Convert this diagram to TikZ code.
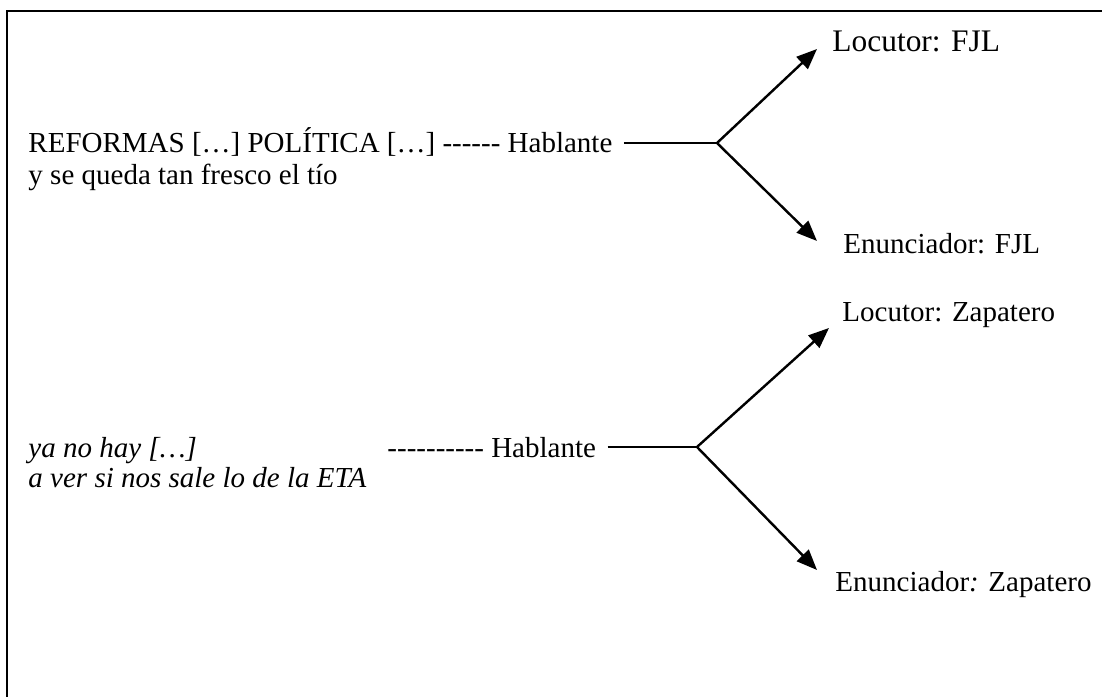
\documentclass[tikz,border=0pt]{standalone}
\usepackage{fontspec}
\setmainfont{Liberation Serif}
\usetikzlibrary{arrows.meta}
\newcommand{\hy}{\mbox{-}}
\begin{document}
\begin{tikzpicture}[x=0.4138pt,y=-0.4138pt,
  txt/.style={inner sep=0pt,anchor=base west,font=\fontsize{12}{14.4}\selectfont},
  ital/.style={txt,font=\fontsize{12}{14.4}\selectfont\itshape},
  bigtxt/.style={txt,font=\fontsize{13}{15.6}\selectfont},
  stem/.style={line width=1pt},
  branch/.style={line width=1pt,-{Triangle[length=8.5pt,width=6.8pt]}},
  frame/.style={line width=1pt}]
\useasboundingbox (0,0) rectangle (1102,697);

% open frame: top and left edges only
\draw[frame] (7,697) -- (7,11) -- (1102,11);

% first utterance
\node[txt] (src1) at (28,153) {REFORMAS […] POLÍTICA […] \hy\hy\hy\hy\hy\hy{} Hablante};
\node[txt] (src1b) at (28,185) {y se queda tan fresco el tío};
\coordinate (j1) at (717,143);
\coordinate (s1) at ([xshift=4.6pt]src1.east);
\coordinate (t1u) at (817,49);
\coordinate (t1d) at (817,241);
\node[bigtxt] (loc1) at (832,52) {Locutor: FJL};
\node[txt] (enu1) at (843,254) {Enunciador: FJL};
\draw[stem] (s1 |- j1) -- (j1);
\draw[branch] (j1) -- (t1u);
\draw[branch] (j1) -- (t1d);

% second utterance
\node[ital] (src2a) at (28,458) {ya no hay […]};
\node[ital] (src2b) at (28,488) {a ver si nos sale lo de la ETA};
\node[txt] (hab2) at (387,458) {\hy\hy\hy\hy\hy\hy\hy\hy\hy\hy{} Hablante};
\coordinate (j2) at (697,447);
\coordinate (s2) at ([xshift=4.6pt]hab2.east);
\coordinate (t2u) at (829,328);
\coordinate (t2d) at (817,570);
\node[txt] (loc2) at (842,322) {Locutor: Zapatero};
\node[txt] (enu2) at (835,592) {Enunciador\textit{:} Zapatero};
\draw[stem] (s2 |- j2) -- (j2);
\draw[branch] (j2) -- (t2u);
\draw[branch] (j2) -- (t2d);
\end{tikzpicture}
\end{document}
